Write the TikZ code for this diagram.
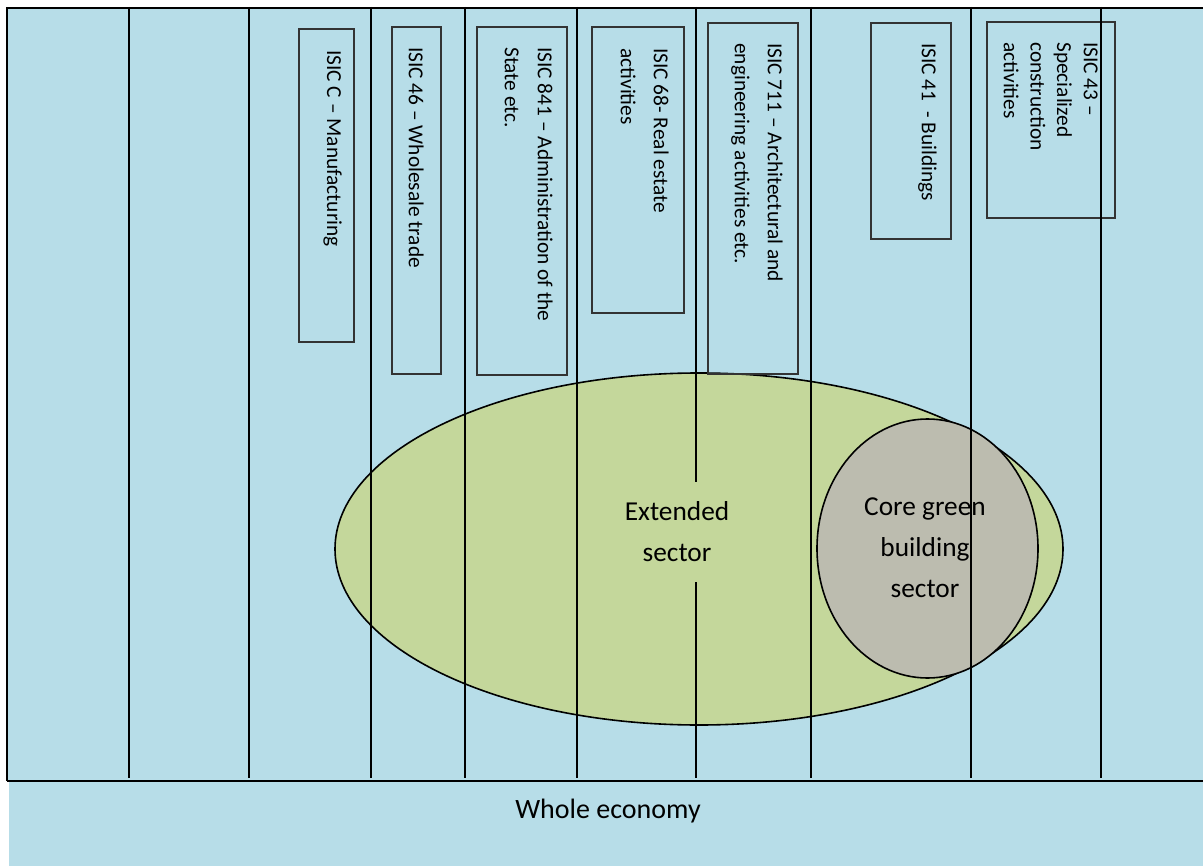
\documentclass[tikz,border=0pt]{standalone}
\usepackage{fontspec}
\setmainfont{Carlito}
\usetikzlibrary{shapes.geometric,fit}
\definecolor{econblue}{HTML}{B7DDE8}
\definecolor{extgreen}{HTML}{C4D79B}
\definecolor{coregrey}{HTML}{BCBCAF}
\definecolor{boxline}{HTML}{333333}
\tikzset{
  isicbox/.style={draw=boxline, line width=0.8pt, inner sep=0pt},
  isictext/.style={rotate=-90, anchor=north west, inner sep=0pt, align=left,
    font=\fontsize{16}{24.75}\selectfont},
  divider/.style={line width=1.3pt},
  frame/.style={line width=1.4pt},
  bigtext/.style={align=center, font=\fontsize{20.5}{30.75}\selectfont},
  sectorshape/.style={ellipse, draw, line width=1.2pt, inner sep=0pt},
}
\begin{document}
\begin{tikzpicture}[x=0.75pt,y=-0.75pt]
\useasboundingbox (0,0) rectangle (1203,866);
% backgrounds
\fill[econblue] (7,8) rectangle (1203,781);
\fill[econblue] (9,781) rectangle (1203,866);
% sectors
\node[sectorshape, fill=extgreen, minimum width=546pt, minimum height=264pt] (ext) at (699,549) {};
\node[sectorshape, fill=coregrey, minimum width=165.75pt, minimum height=194.25pt] (core) at (927.5,548.5) {};
% ISIC boxes
\node[isicbox, fit={(299,29) (354,342)}] (b1) {};
\node[isictext] (t1) at (342,50) {ISIC C – Manufacturing};
\node[isicbox, fit={(392,27) (441,374)}] (b2) {};
\node[isictext] (t2) at (424,47) {ISIC 46 – Wholesale trade};
\node[isicbox, fit={(477,27) (567,375)}] (b3) {};
\node[isictext] (t3) at (553,47) {ISIC 841 – Administration of the\\State etc.};
\node[isicbox, fit={(592,27) (684,313)}] (b4) {};
\node[isictext] (t4) at (669,48) {ISIC 68- Real estate\\activities};
\node[isicbox, fit={(708,23) (798,374)}] (b5) {};
\node[isictext] (t5) at (783,43) {ISIC 711 – Architectural and\\engineering activities etc.};
\node[isicbox, fit={(871,23) (951,239)}] (b6) {};
\node[isictext] (t6) at (937,43) {ISIC 41\ \ - Buildings};
\node[isicbox, fit={(987,22) (1115,218)}] (b7) {};
\node[isictext, font=\fontsize{16}{20}\selectfont] (t7) at (1098,42) {ISIC 43 –\\Specialized\\construction\\activities};
% dividers
\foreach \x in {129,249,371,465,577,696,811,971,1101}
  \draw[divider] (\x,7) -- (\x,778);
% frame
\draw[frame] (1203,8) -- (7,8) -- (7,781);
\draw[line width=2pt] (7,781) -- (1203,781);
% labels
\node[bigtext, fill=extgreen, minimum height=75pt, inner xsep=4pt] (extlabel) at (677,532) {Extended\\sector};
\node[bigtext] (corelabel) at (925,548) {Core green\\building\\sector};
\node[bigtext, font=\fontsize{21}{30}\selectfont] (whole) at (608,811) {Whole economy};
\end{tikzpicture}
\end{document}
